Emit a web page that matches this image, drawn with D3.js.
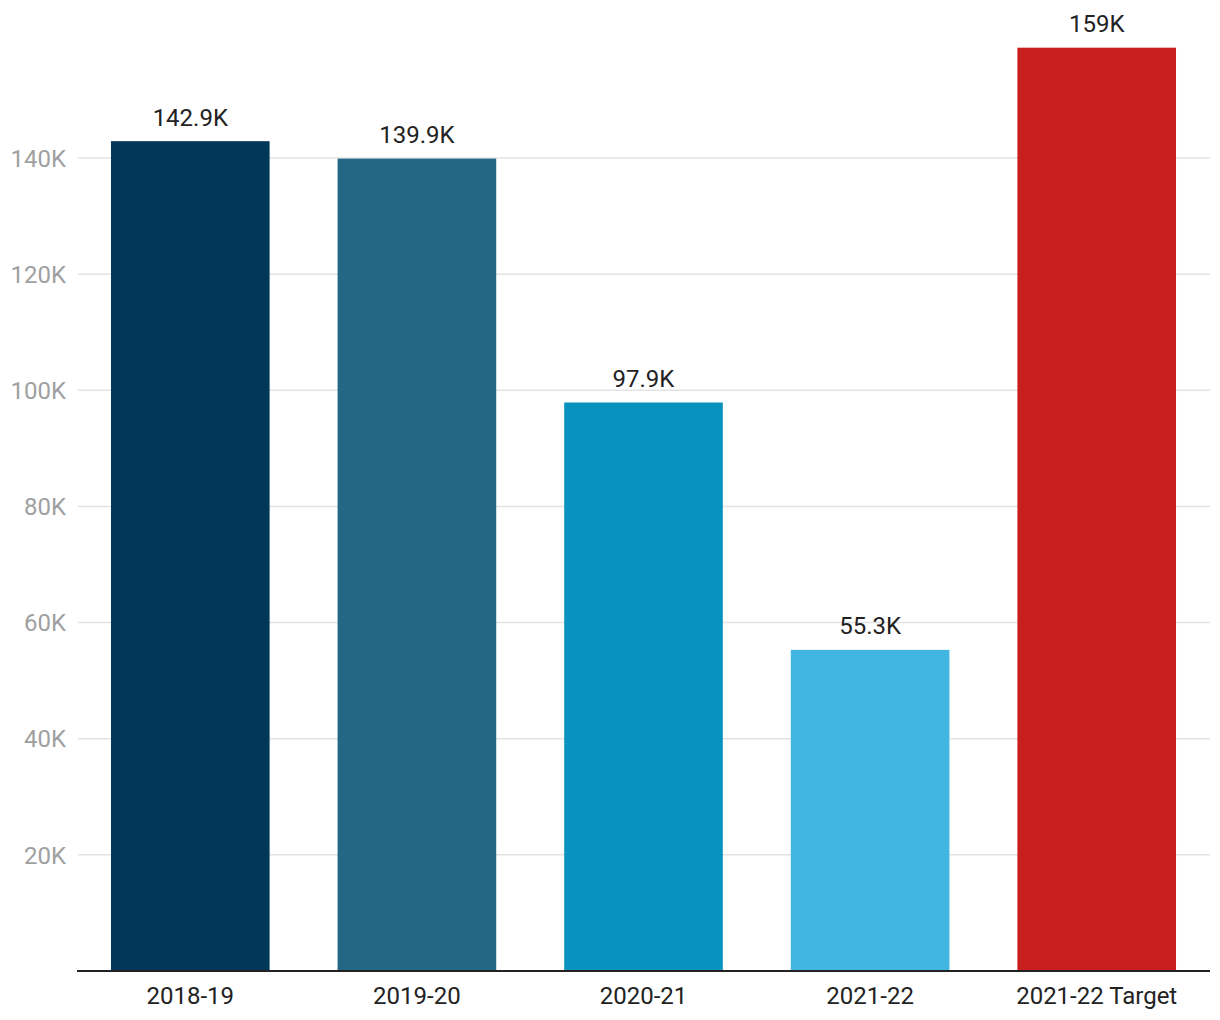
<!DOCTYPE html>
<html><head><meta charset="utf-8">
<script src="https://cdn.jsdelivr.net/npm/d3@7"></script>
<style>body{margin:0;background:#fff;font-family:Roboto,sans-serif;}</style>
</head><body><svg id="c" width="1220" height="1020"></svg>
<script>
const categories = ["2018-19","2019-20","2020-21","2021-22","2021-22 Target"];
const values = [142900,139900,97900,55300,159000];
const labels = ["142.9K","139.9K","97.9K","55.3K","159K"];
const colors = ["#02375a","#246785","#0893bf","#41b6e3","#c81e1e"];
const yTicks = [20000,40000,60000,80000,100000,120000,140000];

const svg = d3.select("#c");
const x = d3.scaleBand().domain(categories).range([77,1210]).paddingInner(0.3).paddingOuter(0.15);
const y = d3.scaleLinear().domain([0,160000]).range([971, 971-160*5.807]);

svg.append("g").selectAll("line").data(yTicks).join("line")
  .attr("x1",78).attr("x2",1210).attr("y1",d=>y(d)).attr("y2",d=>y(d))
  .attr("stroke","#e3e3e3").attr("stroke-width",1.5);

svg.append("g").selectAll("text").data(yTicks).join("text")
  .attr("x",66).attr("y",d=>y(d)).attr("dy","0.36em").attr("text-anchor","end")
  .attr("fill","#a0a0a0").attr("font-size",24).text(d=>d/1000+"K");

svg.append("g").selectAll("rect").data(values).join("rect")
  .attr("x",(d,i)=>x(categories[i])).attr("width",x.bandwidth())
  .attr("y",d=>y(d)).attr("height",d=>y(0)-y(d)).attr("fill",(d,i)=>colors[i]);

svg.append("g").selectAll("text").data(values).join("text")
  .attr("x",(d,i)=>x(categories[i])+x.bandwidth()/2).attr("y",d=>y(d)-15.5)
  .attr("text-anchor","middle").attr("fill","#222").attr("font-size",24).text((d,i)=>labels[i]);

svg.append("line").attr("x1",77).attr("x2",1210).attr("y1",971).attr("y2",971)
  .attr("stroke","#222").attr("stroke-width",2);

svg.append("g").selectAll("text").data(categories).join("text")
  .attr("x",d=>x(d)+x.bandwidth()/2).attr("y",1004)
  .attr("text-anchor","middle").attr("fill","#222").attr("font-size",24).text(d=>d);
</script></body></html>
